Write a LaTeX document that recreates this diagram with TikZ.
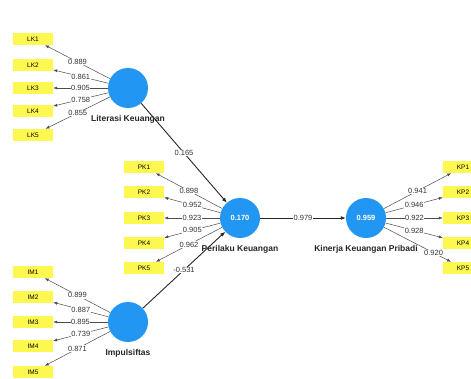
\documentclass[tikz,border=0pt]{standalone}
\usepackage{fontspec}
\setmainfont{Liberation Sans}
\usetikzlibrary{arrows.meta}
\definecolor{lvblue}{RGB}{33,150,243}
\definecolor{indyellow}{RGB}{252,248,80}
\tikzset{
	ind/.style={fill=indyellow, minimum width=40pt, minimum height=12pt, inner sep=0pt, font=\fontsize{6.5}{6.5}\selectfont},
	lv/.style={circle, fill=lvblue, minimum size=40pt, inner sep=0pt, text=white, font=\fontsize{7.5}{7.5}\selectfont\bfseries},
	lvname/.style={font=\fontsize{8.5}{9}\selectfont\bfseries, text=black!85, label distance=4pt},
	load/.style={-{Latex[length=4pt,width=3pt]}, draw=black!70, line width=0.5pt},
	struct/.style={-{Latex[length=5pt,width=4pt]}, draw=black!85, line width=0.9pt},
	coef/.style={pos=0.5, fill=white, inner sep=0.6pt, font=\fontsize{7.5}{7.5}\selectfont, text=black!80}
}
\begin{document}
\begin{tikzpicture}[x=1pt, y=-1pt]
		\clip (0,0) rectangle (471,379);
		\fill[white] (0,0) rectangle (471,379);
		\node[lv, label={[lvname]below:Literasi Keuangan}] (lit) at (128,88) {};
		\node[lv, label={[lvname]below:Impulsiftas}] (imp) at (128,322) {};
		\node[lv, label={[lvname]below:Perilaku Keuangan}] (per) at (240,218) {0.170};
		\node[lv, label={[lvname]below:Kinerja Keuangan Pribadi}] (kin) at (366,218) {0.959};
		\node[ind] (lk1) at (33,39) {LK1};
		\node[ind] (lk2) at (33,65) {LK2};
		\node[ind] (lk3) at (33,88) {LK3};
		\node[ind] (lk4) at (33,111) {LK4};
		\node[ind] (lk5) at (33,135) {LK5};
		\node[ind] (pk1) at (144,167) {PK1};
		\node[ind] (pk2) at (144,192) {PK2};
		\node[ind] (pk3) at (144,218) {PK3};
		\node[ind] (pk4) at (144,243) {PK4};
		\node[ind] (pk5) at (144,268) {PK5};
		\node[ind] (im1) at (33,272) {IM1};
		\node[ind] (im2) at (33,297) {IM2};
		\node[ind] (im3) at (33,322) {IM3};
		\node[ind] (im4) at (33,346) {IM4};
		\node[ind] (im5) at (33,372) {IM5};
		\node[ind] (kp1) at (463,167) {KP1};
		\node[ind] (kp2) at (463,192) {KP2};
		\node[ind] (kp3) at (463,218) {KP3};
		\node[ind] (kp4) at (463,243) {KP4};
		\node[ind] (kp5) at (463,268) {KP5};
		\draw[load] (lit) -- (lk1) node[coef] {0.889};
		\draw[load] (lit) -- (lk2) node[coef] {0.861};
		\draw[load] (lit) -- (lk3) node[coef] {0.905};
		\draw[load] (lit) -- (lk4) node[coef] {0.758};
		\draw[load] (lit) -- (lk5) node[coef] {0.855};
		\draw[load] (per) -- (pk1) node[coef] {0.898};
		\draw[load] (per) -- (pk2) node[coef] {0.952};
		\draw[load] (per) -- (pk3) node[coef] {0.923};
		\draw[load] (per) -- (pk4) node[coef] {0.905};
		\draw[load] (per) -- (pk5) node[coef] {0.962};
		\draw[load] (imp) -- (im1) node[coef] {0.899};
		\draw[load] (imp) -- (im2) node[coef] {0.887};
		\draw[load] (imp) -- (im3) node[coef] {0.895};
		\draw[load] (imp) -- (im4) node[coef] {0.739};
		\draw[load] (imp) -- (im5) node[coef] {0.871};
		\draw[load] (kin) -- (kp1) node[coef] {0.941};
		\draw[load] (kin) -- (kp2) node[coef] {0.946};
		\draw[load] (kin) -- (kp3) node[coef] {0.922};
		\draw[load] (kin) -- (kp4) node[coef] {0.928};
		\draw[load] (kin) -- (kp5) node[coef, pos=0.74] {0.920};
		\draw[struct] (lit) -- (per) node[coef] {0.165};
		\draw[struct] (imp) -- (per) node[coef] {-0.531};
		\draw[struct] (per) -- (kin) node[coef] {0.979};
	\end{tikzpicture}
\end{document}
